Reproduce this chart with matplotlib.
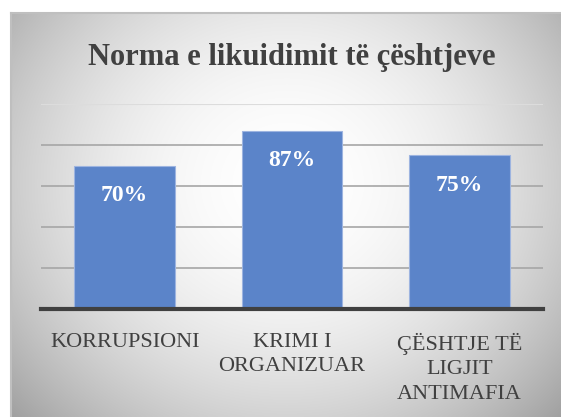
import numpy as np
import matplotlib.pyplot as plt

categories = ["KORRUPSIONI", "KRIMI I\nORGANIZUAR", "ÇËSHTJE TË\nLIGJIT\nANTIMAFIA"]
values = [70, 87, 75]
title = "Norma e likuidimit të çështjeve"

plt.rcParams["font.family"] = ["Liberation Serif", "DejaVu Serif"]
text_color = "#404040"
bar_color = "#5B84C9"

fig = plt.figure(figsize=(5.61, 4.17), dpi=100)
fig.patch.set_facecolor("white")

# gradient chart background (radial, white centre fading to grey)
bg = fig.add_axes([11 / 561, 0, 550 / 561, 404 / 417])
h, w = 200, 270
yy, xx = np.mgrid[0:h, 0:w]
r = np.sqrt(((xx - w * 0.5) / (w * 0.5)) ** 2 + ((yy - h * 0.42) / (h * 0.62)) ** 2)
shade = 1.0 - 0.2 * np.clip(r, 0, 1.4) ** 2
bg.imshow(np.dstack([shade] * 3), aspect="auto", extent=[0, 1, 0, 1],
          interpolation="bicubic", vmin=0, vmax=1)
bg.set_xticks([])
bg.set_yticks([])
for side in ["right", "bottom"]:
    bg.spines[side].set_visible(False)
for side in ["left", "top"]:
    bg.spines[side].set_color("#BFBFBF")
    bg.spines[side].set_linewidth(1.5)

fig.text(292 / 561, 1 - 58 / 417, title, ha="center", va="center",
         fontsize=22, fontweight="bold", color=text_color)

ax = fig.add_axes([41 / 561, (417 - 309) / 417, 502 / 561, 205 / 417])
ax.set_facecolor("none")
x = np.arange(len(categories))
ax.bar(x, values, width=0.6, color=bar_color, edgecolor="#9DB4E0",
       linewidth=0.8, zorder=3)
ax.set_xlim(-0.5, len(categories) - 0.5)
ax.set_ylim(0, 100)
ax.set_yticks([20, 40, 60, 80])
ax.yaxis.grid(True, color="#A6A6A6", linewidth=1.2, zorder=0)
ax.axhline(100, color="#DCDCDC", linewidth=1.5, zorder=0)
ax.tick_params(axis="y", length=0, labelleft=False)
ax.tick_params(axis="x", length=0, pad=17)
ax.set_xticks(x)
ax.set_xticklabels(categories, fontsize=16, color=text_color,
                   linespacing=1.4, va="top")
for side in ["left", "right", "top"]:
    ax.spines[side].set_visible(False)
ax.spines["bottom"].set_color("#404040")
ax.spines["bottom"].set_linewidth(3)
ax.spines["bottom"].set_zorder(4)

for i, v in enumerate(values):
    ax.annotate(f"{v}%", (i, v), xytext=(0, -21.5), textcoords="offset points",
                ha="center", va="center", fontsize=17, fontweight="bold",
                color="white", zorder=5)

fig.savefig("out.png", dpi=100)
